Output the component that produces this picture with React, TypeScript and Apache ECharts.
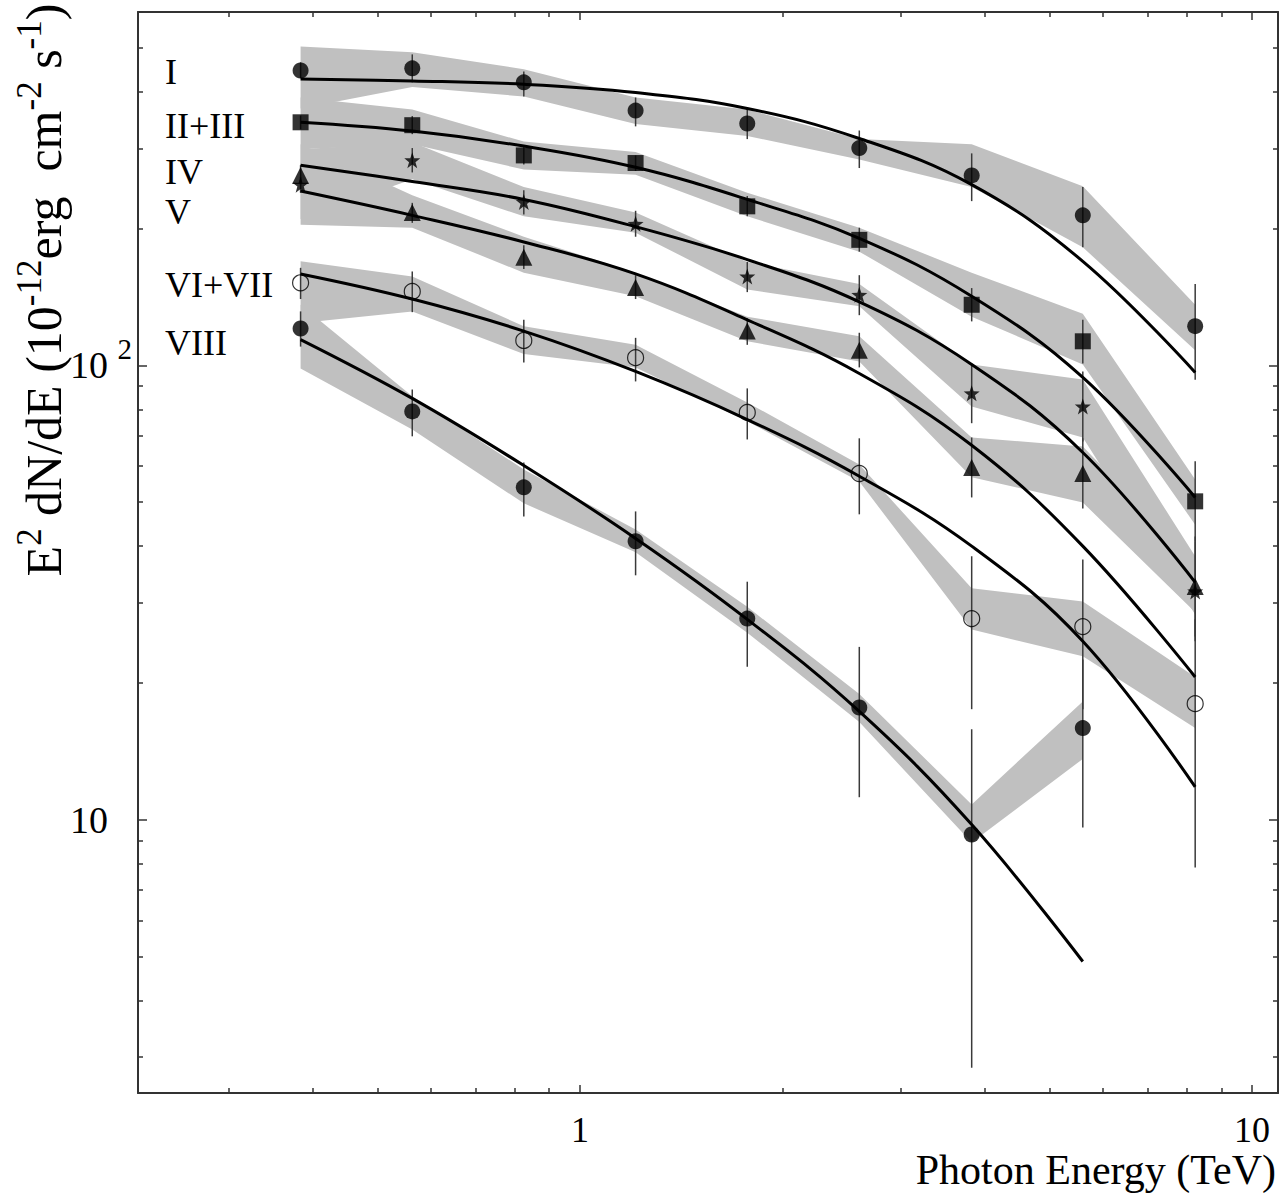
import React, { useEffect, useRef } from "react";
import * as echarts from "echarts";

// Photon energy bin centres (TeV)
const energies = [0.384, 0.563, 0.825, 1.21, 1.774, 2.604, 3.827, 5.6, 8.23];

// Region I (filled circles)
const fluxI = [446, 451, 420, 364, 341, 301, 262, 214, 122];
const errLoI = [429, 420, 391, 336, 315, 272, 230, 182, 93];
const errHiI = [465, 484, 444, 389, 368, 329, 293, 247, 151];
const bandLoI = [368, 410, 391, 340, 320, 284, 247, 182, 108];
const bandHiI = [504, 489, 449, 389, 366, 315, 307, 248, 136];
const fitI = [427, 423, 416, 399, 368, 316, 250, 169.5, 96.5];

// Region II+III (squares)
const fluxII = [343, 338, 290, 279, 224, 189, 136, 113, 50.2];
const errLoII = [331, 323, 277, 268, 213, 178, 125, 101, 41];
const errHiII = [355, 354, 304, 290, 236, 201, 148, 126, 61.5];
const bandLoII = [299, 307, 270, 263, 213, 178, 128, 100.5, 44.6];
const bandHiII = [389, 366, 311, 295, 240, 201, 160, 130, 56.1];
const fitII = [343, 328, 304, 273, 232, 190.5, 142, 94.1, 51.2];

// Region IV (stars)
const fluxIV = [250, 283, 229, 205, 157, 143, 86.8, 81.2, 31.8];
const errLoIV = [240, 266, 215, 192, 145, 129, 74.6, 68, 24.7];
const errHiIV = [260, 301, 243, 219, 169, 158, 101, 97, 41];
const bandLoIV = [210, 257, 213, 196, 147, 135, 81.2, 69.4, 28.3];
const bandHiIV = [299, 310, 247, 217, 169, 151, 100.5, 93.1, 38.0];
const fitIV = [276, 254, 232, 202, 171, 138, 100.5, 64.3, 33.3];

// Region V (triangles)
const fluxV = [262, 217, 173, 148.5, 119, 108, 59.6, 57.8, 32.6];
const errLoV = [249, 206, 163, 140, 111, 99, 51.2, 48.4, 25.3];
const errHiV = [276, 228, 184, 158, 127, 118, 69.4, 69.1, 42];
const bandLoV = [204, 201, 160, 142, 113, 102, 56.7, 49.9, 28.6];
const bandHiV = [307, 237, 192, 160, 128, 116, 69.4, 66.3, 36.8];
const fitV = [242, 214, 187, 159, 126, 96, 66.7, 40.0, 20.6];

// Region VI+VII (open circles)
const fluxVI = [152, 145.5, 113.5, 104, 78.8, 57.8, 27.7, 26.6, 18.0];
const errLoVI = [140, 131, 101.5, 92.2, 68.7, 47, 17.5, 17.5, 7.84];
const errHiVI = [164, 161, 126, 115, 89, 69.1, 38.0, 37.4, 27.6];
const bandLoVI = [124, 131.5, 106, 99, 75.3, 55.5, 26.2, 22.9, 15.9];
const bandHiVI = [169.5, 157, 122, 111, 82.9, 60.5, 32.3, 30.2, 20.6];
const fitVI = [159, 140, 119, 97, 76, 57, 40.0, 24.7, 11.8];

// Region VIII (filled circles, 8 bins)
const fluxVIII = [120.6, 79.2, 53.9, 41.0, 27.7, 17.65, 9.27, 15.9];
const errLoVIII = [110, 69.8, 46.5, 34.5, 21.7, 11.2, 2.84, 9.6];
const errHiVIII = [131.5, 88.5, 61.1, 47.7, 33.4, 24.0, 15.8, 22.5];
const bandLoVIII = [98.5, 72.3, 49.7, 38.8, 25.8, 16.4, 8.9, 13.6];
const bandHiVIII = [136, 85.5, 59, 43.5, 29.4, 18.9, 10.8, 18.2];
const fitVIII = [114, 84.6, 60.2, 41.6, 27.6, 17.3, 9.75, 4.87];

// Axis ticks
const xMajor = [1, 10];
const xMinor = [0.3, 0.4, 0.5, 0.6, 0.7, 0.8, 0.9, 2, 3, 4, 5, 6, 7, 8, 9];
const yMajor = [10, 100];
const yMinor = [3, 4, 5, 6, 7, 8, 9, 20, 30, 40, 50, 60, 70, 80, 90, 200, 300, 400, 500, 600];

// Region labels
const regionLabels = ["I", "II+III", "IV", "V", "VI+VII", "VIII"];

const SERIF = "'Liberation Serif', 'Times New Roman', serif";
const BAND = "#c0c0c0";
const AXIS = "#333333";
const STAR =
  "path://M0,-10 L2.35,-3.24 L9.51,-3.09 L3.8,1.24 L5.88,8.09 L0,4 L-5.88,8.09 L-3.8,1.24 L-9.51,-3.09 L-2.35,-3.24 Z";

type Region = {
  name: string;
  flux: number[];
  errLo: number[];
  errHi: number[];
  bandLo: number[];
  bandHi: number[];
  fit: number[];
  symbol: string;
  size: number;
  hollow: boolean;
};

const regions: Region[] = [
  { name: "I", flux: fluxI, errLo: errLoI, errHi: errHiI, bandLo: bandLoI, bandHi: bandHiI, fit: fitI, symbol: "circle", size: 16, hollow: false },
  { name: "II+III", flux: fluxII, errLo: errLoII, errHi: errHiII, bandLo: bandLoII, bandHi: bandHiII, fit: fitII, symbol: "rect", size: 16, hollow: false },
  { name: "IV", flux: fluxIV, errLo: errLoIV, errHi: errHiIV, bandLo: bandLoIV, bandHi: bandHiIV, fit: fitIV, symbol: STAR, size: 16, hollow: false },
  { name: "V", flux: fluxV, errLo: errLoV, errHi: errHiV, bandLo: bandLoV, bandHi: bandHiV, fit: fitV, symbol: "triangle", size: 17, hollow: false },
  { name: "VI+VII", flux: fluxVI, errLo: errLoVI, errHi: errHiVI, bandLo: bandLoVI, bandHi: bandHiVI, fit: fitVI, symbol: "circle", size: 16, hollow: true },
  { name: "VIII", flux: fluxVIII, errLo: errLoVIII, errHi: errHiVIII, bandLo: bandLoVIII, bandHi: bandHiVIII, fit: fitVIII, symbol: "circle", size: 16, hollow: false },
];

function buildSeries(): any[] {
  const out: any[] = [];
  regions.forEach((r) => {
    const n = r.flux.length;
    out.push({
      type: "custom",
      name: r.name + " sys",
      z: 1,
      silent: true,
      data: r.flux.map((_, i) => [energies[i], r.bandLo[i], r.bandHi[i]]),
      encode: { x: 0, y: [1, 2] },
      renderItem: (params: any, api: any) => {
        if (params.dataIndex !== 0) return null;
        const pts: number[][] = [];
        for (let i = 0; i < n; i++) pts.push(api.coord([energies[i], r.bandHi[i]]));
        for (let i = n - 1; i >= 0; i--) pts.push(api.coord([energies[i], r.bandLo[i]]));
        return { type: "polygon", shape: { points: pts }, style: { fill: BAND, stroke: null } };
      },
    });
    out.push({
      type: "custom",
      name: r.name + " err",
      z: 2,
      silent: true,
      data: r.flux.map((_, i) => [energies[i], r.errLo[i], r.errHi[i]]),
      encode: { x: 0, y: [1, 2] },
      renderItem: (params: any, api: any) => {
        const x = api.value(0);
        const p1 = api.coord([x, api.value(1)]);
        const p2 = api.coord([x, api.value(2)]);
        return {
          type: "line",
          shape: { x1: p1[0], y1: p1[1], x2: p2[0], y2: p2[1] },
          style: { stroke: "#3a3a3a", lineWidth: 1.5 },
        };
      },
    });
    out.push({
      type: "line",
      name: r.name + " fit",
      z: 3,
      silent: true,
      smooth: 0.4,
      showSymbol: false,
      symbol: "none",
      data: r.fit.map((v, i) => [energies[i], v]),
      lineStyle: { color: "#000", width: 3 },
    });
    out.push({
      type: "scatter",
      name: r.name,
      z: 4,
      silent: true,
      symbol: r.symbol,
      symbolSize: r.size,
      data: r.flux.map((v, i) => [energies[i], v]),
      itemStyle: r.hollow
        ? { color: "rgba(0,0,0,0)", borderColor: "#000", borderWidth: 1.2 }
        : { color: "#000", borderWidth: 0 },
    });
  });
  return out;
}

const tickLine = { color: AXIS, width: 1.5 };

function xAxisDef(position: string, ticks: number[], len: number, showLine: boolean, showLabel: boolean): any {
  return {
    type: "log",
    position,
    min: 0.22,
    max: 10.93,
    axisLine: { show: showLine, onZero: false, lineStyle: { color: AXIS, width: 2 } },
    axisTick: { show: true, inside: true, length: len, customValues: ticks, lineStyle: tickLine },
    axisLabel: showLabel
      ? {
          show: true,
          customValues: ticks,
          margin: 22,
          fontSize: 36,
          lineHeight: 30,
          fontFamily: SERIF,
          color: "#000",
          formatter: (v: number) => (v > 5 ? "10" : "1"),
        }
      : { show: false },
    splitLine: { show: false },
    minorTick: { show: false },
  };
}

function yAxisDef(position: string, ticks: number[], len: number, showLine: boolean, showLabel: boolean): any {
  return {
    type: "log",
    position,
    min: 2.5,
    max: 600,
    axisLine: { show: showLine, onZero: false, lineStyle: { color: AXIS, width: 2 } },
    axisTick: { show: true, inside: true, length: len, customValues: ticks, lineStyle: tickLine },
    axisLabel: showLabel
      ? {
          show: true,
          customValues: ticks,
          align: "left",
          margin: 68,
          fontFamily: SERIF,
          color: "#000",
          formatter: (v: number) => (v > 50 ? "{b|10 }{s|2}" : "{b|10}"),
          rich: {
            b: { fontSize: 38, lineHeight: 62, fontFamily: SERIF, color: "#000" },
            s: { fontSize: 29, lineHeight: 29, verticalAlign: "top", fontFamily: SERIF, color: "#000" },
          },
        }
      : { show: false },
    splitLine: { show: false },
    minorTick: { show: false },
  };
}

const labelY = [72, 126, 172, 212, 285, 343];

function buildGraphic(): any[] {
  const g: any[] = [];
  regionLabels.forEach((t, i) => {
    g.push({
      type: "text",
      x: 165,
      y: labelY[i],
      style: {
        text: t,
        fontSize: 36,
        fontFamily: SERIF,
        fill: "#000",
        align: "left",
        textAlign: "left",
        verticalAlign: "middle",
        textVerticalAlign: "middle",
      },
    });
  });
  g.push({
    type: "text",
    x: 1276,
    y: 1170,
    style: {
      text: "Photon Energy (TeV)",
      fontSize: 42,
      fontFamily: SERIF,
      fill: "#000",
      align: "right",
      textAlign: "right",
      verticalAlign: "middle",
      textVerticalAlign: "middle",
    },
  });
  g.push({
    type: "text",
    x: 44,
    y: 290,
    rotation: Math.PI / 2,
    style: {
      text: "{m|E}{s|2}{m| dN/dE (10}{s|-12}{m|erg  cm}{s|-2}{m| s}{s|-1}{m|)}",
      fontFamily: SERIF,
      fill: "#000",
      align: "center",
      textAlign: "center",
      verticalAlign: "middle",
      textVerticalAlign: "middle",
      rich: {
        m: { fontSize: 50, lineHeight: 64, fontFamily: SERIF, fill: "#000" },
        s: { fontSize: 35, lineHeight: 35, verticalAlign: "top", fontFamily: SERIF, fill: "#000" },
      },
    },
  });
  return g;
}

export default function App() {
  const ref = useRef<HTMLDivElement>(null);
  useEffect(() => {
    document.body.style.margin = "0";
    const chart = echarts.init(ref.current!, null, { renderer: "svg" });
    chart.setOption({
      animation: false,
      backgroundColor: "#fff",
      grid: { left: 138, top: 12, right: 7, bottom: 103, containLabel: false },
      xAxis: [
        xAxisDef("bottom", xMajor, 8, true, true),
        xAxisDef("bottom", xMinor, 5, false, false),
        xAxisDef("top", xMajor, 8, true, false),
        xAxisDef("top", xMinor, 5, false, false),
      ],
      yAxis: [
        yAxisDef("left", yMajor, 9, true, true),
        yAxisDef("left", yMinor, 5, false, false),
        yAxisDef("right", yMajor, 9, true, false),
        yAxisDef("right", yMinor, 5, false, false),
      ],
      series: buildSeries(),
      graphic: buildGraphic(),
    });
    return () => chart.dispose();
  }, []);
  return <div ref={ref} style={{ width: 1285, height: 1196 }} />;
}
